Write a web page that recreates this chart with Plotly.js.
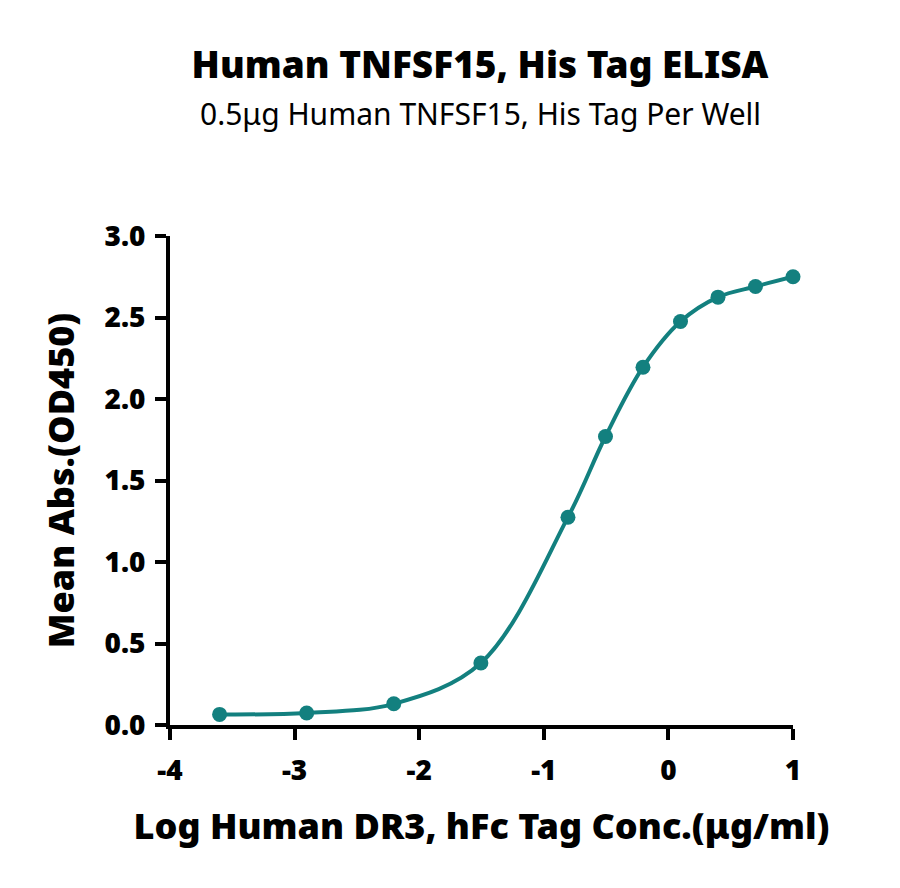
<!DOCTYPE html>
<html lang="en">
<head>
    <meta charset="utf-8">
    <title>Human TNFSF15 ELISA</title>
    <script src="https://cdn.plot.ly/plotly-3.0.1.min.js"></script>
    <style>
        html, body { margin: 0; padding: 0; background: #fff; }
        #plot { width: 900px; height: 888px; }
    </style>
</head>
<body>
    <div id="plot"></div>
    <script>
        // log10 concentration (ug/ml) and mean OD450
        const logConc = [-3.602, -2.903, -2.204, -1.505, -0.806, -0.505, -0.204, 0.097, 0.398, 0.699, 1.0];
        const meanAbs = [0.065, 0.074, 0.13, 0.38, 1.275, 1.77, 2.195, 2.475, 2.625, 2.69, 2.75];

        const xTicks = [-4, -3, -2, -1, 0, 1];
        const yTicks = [0, 0.5, 1.0, 1.5, 2.0, 2.5, 3.0];

        const teal = '#13807f';
        const font = '"Noto Sans", "Open Sans", sans-serif';

        const trace = {
            x: logConc,
            y: meanAbs,
            type: 'scatter',
            mode: 'lines+markers',
            line: { color: teal, width: 4, shape: 'spline', smoothing: 1 },
            marker: { color: teal, size: 15 },
            cliponaxis: false,
            showlegend: false
        };

        const layout = {
            width: 900,
            height: 888,
            margin: { l: 170, r: 107, t: 236, b: 163 },
            paper_bgcolor: '#fff',
            plot_bgcolor: '#fff',
            font: { family: font, color: '#000' },
            xaxis: {
                range: [-4, 1],
                tickvals: xTicks,
                ticktext: xTicks.map(String),
                showgrid: false,
                zeroline: false,
                showline: true,
                linecolor: '#000',
                linewidth: 4,
                ticks: 'outside',
                ticklen: 11,
                tickwidth: 4,
                tickcolor: '#000',
                ticklabelstandoff: 6,
                tickfont: { size: 28, family: font, weight: 900 },
                title: {
                    text: 'Log Human DR3, hFc Tag Conc.(μg/ml)',
                    font: { size: 36, family: font, weight: 900 },
                    standoff: 28
                }
            },
            yaxis: {
                range: [0, 3],
                tickvals: yTicks,
                ticktext: yTicks.map(function (v) { return v.toFixed(1); }),
                showgrid: false,
                zeroline: false,
                showline: true,
                linecolor: '#000',
                linewidth: 4,
                ticks: 'outside',
                ticklen: 11,
                tickwidth: 4,
                tickcolor: '#000',
                ticklabelstandoff: 4,
                tickfont: { size: 28, family: font, weight: 900 },
                title: {
                    text: 'Mean Abs.(OD450)',
                    font: { size: 36, family: font, weight: 900 },
                    standoff: 20
                }
            },
            title: {
                text: 'Human TNFSF15, His Tag ELISA',
                font: { size: 37, family: font, weight: 900 },
                x: 480 / 900,
                xanchor: 'center',
                y: 1 - 65 / 888,
                yanchor: 'middle'
            },
            annotations: [{
                text: '0.5μg Human TNFSF15, His Tag Per Well',
                xref: 'paper',
                yref: 'paper',
                x: (480 - 170) / 623,
                y: 1 + (236 - 113) / 489,
                xanchor: 'center',
                yanchor: 'middle',
                showarrow: false,
                font: { size: 30, family: font }
            }]
        };

        Plotly.newPlot('plot', [trace], layout, { displayModeBar: false, staticPlot: true });
    </script>
</body>
</html>
